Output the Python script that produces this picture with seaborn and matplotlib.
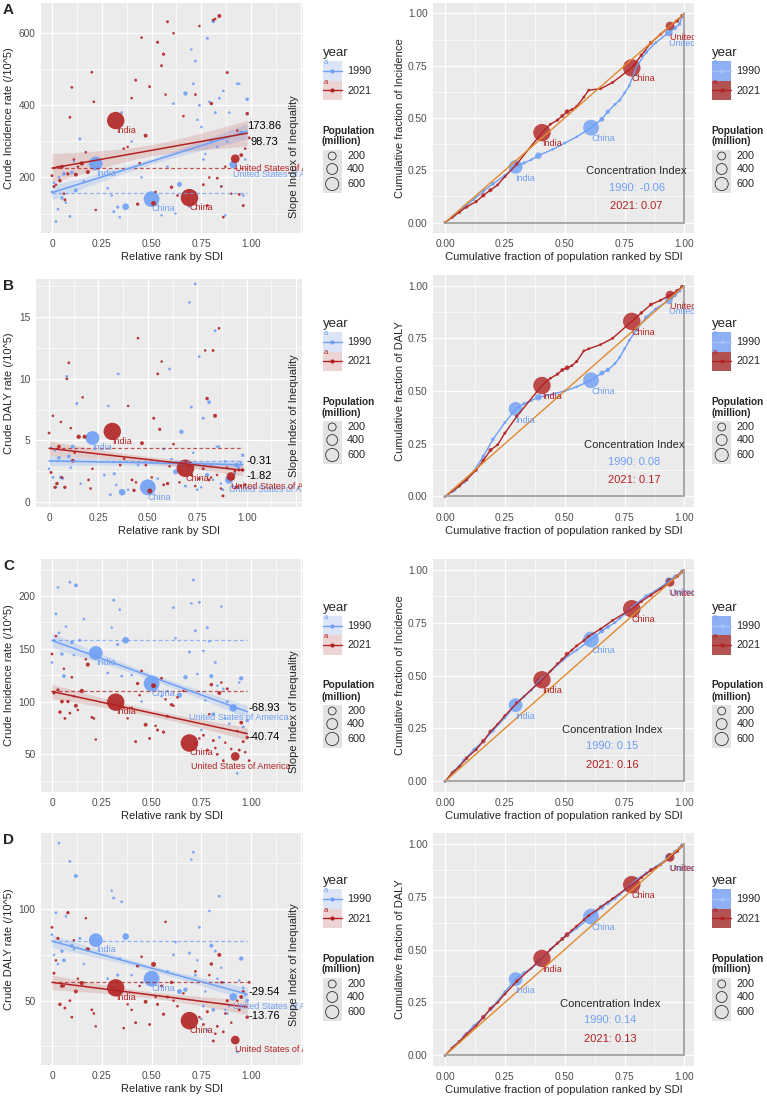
#!/usr/bin/env python3
"""
Inequality figure: slope index of inequality (left) and concentration curves (right),
1990 vs 2021, for four measures (A-D).
"""

import numpy as np
import matplotlib
matplotlib.use("Agg")
import matplotlib.pyplot as plt
import seaborn as sns
from matplotlib.patches import Rectangle

W, H = 767, 1098
BLUE = "#6E9FF5"
RED = "#B22222"
ORANGE = "#E08A30"

# ---------------- data: scatter (relative rank by SDI, population in millions)
rank_1990 = [0.00, 0.02, 0.035, 0.05, 0.06, 0.09, 0.10, 0.12, 0.14, 0.22,
             0.28, 0.31, 0.33, 0.35, 0.37, 0.45, 0.50, 0.58, 0.61, 0.64,
             0.67, 0.69, 0.71, 0.72, 0.74, 0.76, 0.78, 0.80, 0.81, 0.82,
             0.84, 0.86, 0.88, 0.91, 0.93, 0.95, 0.96, 0.98, 0.75, 0.03,
             0.01, 0.07, 0.11, 0.16, 0.30, 0.34, 0.40, 0.55, 0.62, 0.70,
             0.73, 0.77, 0.79, 0.83, 0.85, 0.87, 0.89, 0.94, 0.97]
pop_1990 = [6, 10, 8, 30, 40, 10, 35, 45, 15, 870,
            8, 12, 20, 10, 180, 5, 1150, 6, 10, 90,
            60, 15, 8, 12, 10, 8, 15, 50, 40, 12,
            10, 6, 8, 250, 8, 60, 10, 30, 5, 5,
            3, 3, 3, 3, 3, 3, 3, 3, 3, 3,
            3, 3, 3, 3, 3, 3, 3, 3, 3]
rank_2021 = [0.00, 0.01, 0.03, 0.04, 0.05, 0.065, 0.08, 0.09, 0.10, 0.12,
             0.15, 0.18, 0.20, 0.21, 0.32, 0.42, 0.43, 0.45, 0.47, 0.49,
             0.51, 0.53, 0.55, 0.56, 0.58, 0.60, 0.69, 0.76, 0.78, 0.80,
             0.81, 0.83, 0.84, 0.86, 0.88, 0.92, 0.94, 0.95, 0.96, 0.98,
             0.99, 0.63, 0.72, 0.36,
             0.02, 0.06, 0.11, 0.13, 0.17, 0.22, 0.38, 0.40, 0.44, 0.52,
             0.57, 0.61, 0.66, 0.74, 0.79, 0.82, 0.85, 0.87, 0.90, 0.93, 0.97]
pop_2021 = [10, 15, 20, 30, 40, 12, 25, 10, 8, 45,
            60, 50, 8, 6, 1400, 12, 25, 6, 45, 10,
            90, 15, 10, 20, 12, 25, 1420, 10, 15, 30,
            12, 10, 45, 8, 15, 330, 10, 40, 15, 30,
            10, 6, 8, 6,
            3, 3, 3, 3, 3, 3, 3, 3, 3, 3,
            3, 3, 3, 3, 3, 3, 3, 3, 3, 3, 3]
label_idx_1990 = [9, 16, 33]
label_idx_2021 = [14, 26, 35]
label_names = ["India", "China", "United States of America"]

inc_a_1990 = [160, 78, 200, 143, 210, 92, 214, 164, 307, 239,
              170, 105, 118, 380, 119, 200, 140, 230, 405, 181,
              433, 120, 460, 523, 400, 250, 586, 300, 633, 380,
              420, 440, 300, 236, 460, 324, 150, 417, 340, 112,
              185, 130, 245, 190, 150, 90, 300, 95, 100, 555,
              360, 265, 410, 285, 175, 95, 380, 460, 250]
inc_a_2021 = [205, 175, 228, 191, 230, 138, 210, 367, 450, 208,
              239, 215, 492, 410, 358, 470, 126, 588, 316, 452,
              128, 575, 510, 542, 632, 173, 144, 180, 122, 405,
              637, 198, 648, 90, 491, 252, 153, 262, 122, 377,
              310, 150, 430, 280,
              180, 155, 250, 230, 270, 110, 285, 420, 240, 160,
              430, 600, 370, 620, 200, 640, 175, 230, 155, 330, 280]
daly_b_1990 = [2.7, 2.0, 1.2, 3.6, 2.0, 10.2, 3.7, 4.5, 8.0, 5.2,
               2.2, 0.6, 2.3, 10.4, 0.8, 3.0, 1.2, 4.3, 10.8, 2.45,
               5.7, 1.3, 16.2, 7.7, 17.7, 11.8, 6.8, 2.2, 8.1, 3.0,
               13.9, 4.5, 1.0, 1.8, 1.3, 3.0, 2.8, 3.8, 1.0, 4.2,
               4.4, 1.9, 2.8, 1.5, 7.8, 1.4, 1.0, 1.9, 3.5, 2.5,
               4.0, 1.2, 3.0, 1.8, 4.5, 1.5, 3.3, 2.3, 3.2]
daly_b_2021 = [5.6, 2.4, 1.2, 1.5, 4.5, 2.0, 1.2, 10.0, 11.3, 3.35,
               5.3, 5.3, 1.8, 1.1, 5.73, 1.8, 0.95, 13.3, 4.78, 3.0,
               0.9, 6.8, 10.4, 5.9, 1.4, 1.5, 2.74, 1.9, 2.7, 8.4,
               1.8, 12.3, 7.0, 14.1, 0.5, 2.07, 2.5, 1.2, 2.6, 2.6,
               1.4, 4.7, 2.2, 3.0,
               7.0, 6.5, 6.0, 4.0, 8.5, 2.7, 3.5, 7.8, 1.6, 2.0,
               11.4, 2.9, 1.6, 1.3, 12.3, 2.0, 2.2, 1.1, 2.8, 1.9, 1.3]
inc_c_1990 = [137, 183, 165, 145, 124, 213, 156, 210, 158, 146,
              127, 196, 154, 124, 158, 100, 117, 110, 189, 106,
              123, 147, 215, 167, 194, 148, 170, 124, 88, 137,
              66, 112, 100, 94, 32, 122, 76, 82, 73, 208,
              158, 171, 144, 178, 170, 187, 125, 105, 160, 193,
              126, 101, 157, 115, 190, 84, 79, 118, 70]
inc_c_2021 = [145, 108, 111, 90, 100, 84, 100, 89, 123, 96,
              110, 135, 85, 84, 99.4, 62, 117, 129, 78, 65,
              115, 73, 122, 71, 86, 97, 60.7, 68, 54, 116,
              63, 50, 108, 44, 112, 48, 54, 80, 62, 66,
              44, 104, 60, 94,
              162, 131, 105, 92, 140, 64, 84, 94, 106, 77,
              102, 96, 110, 65, 88, 56, 118, 61, 55, 72, 52]
daly_d_1990 = [86, 98, 136, 77, 72, 126, 80, 118, 84, 83,
               62, 106, 64, 104, 85, 60, 62, 66, 75, 55,
               56, 76, 131, 64, 90, 47, 34, 80, 45, 77,
               107, 60, 43, 52, 22, 73, 57, 50, 40, 70,
               75, 96, 78, 70, 110, 73, 64, 58, 82, 127,
               72, 55, 99, 62, 68, 45, 47, 61, 53]
daly_d_2021 = [90, 65, 84, 48, 58, 46, 98, 50, 41, 55,
               59.6, 78, 45, 43, 57, 38, 69, 74, 49.4, 37,
               69.8, 48, 58, 42.6, 52, 60, 39.1, 37, 44, 70,
               28, 36, 75, 33, 50, 28.5, 45, 52, 55, 41,
               60, 47, 66, 35,
               72, 58, 83, 62, 95, 36, 48, 45, 58, 52,
               93, 50, 54, 41, 64, 32, 60, 43, 38, 50, 47]

# regression: intercept, slope index of inequality, CI half-width (start, min, end)
icpt_1990 = [158, 3.34, 157.9, 82.5]
icpt_2021 = [226, 4.36, 109.5, 60.0]
sii_1990 = [173.86, -0.31, -68.93, -29.54]
sii_2021 = [98.73, -1.82, -40.74, -13.76]
band_1990 = [[20, 8, 22], [0.4, 0.2, 0.4], [7, 3, 6], [3.5, 1.5, 3.5]]
band_2021 = [[40, 16, 36], [0.6, 0.25, 0.45], [7, 3, 6], [4, 1.7, 4]]

# ---------------- data: concentration curves
conc_x_1990 = [0.0, 0.04, 0.08, 0.12, 0.16, 0.20, 0.25, 0.295, 0.33, 0.36,
               0.39, 0.45, 0.50, 0.55, 0.61, 0.655, 0.68, 0.71, 0.73, 0.75,
               0.77, 0.80, 0.84, 0.88, 0.935, 0.96, 0.98, 0.99]
conc_pop_1990 = [5, 30, 40, 10, 35, 45, 10, 870, 20, 12,
                 180, 8, 10, 6, 1150, 90, 60, 15, 12, 10,
                 15, 50, 40, 12, 250, 60, 30, 10]
conc_x_2021 = [0.0, 0.03, 0.06, 0.09, 0.13, 0.16, 0.19, 0.22, 0.25, 0.30,
               0.405, 0.44, 0.47, 0.49, 0.51, 0.53, 0.55, 0.58, 0.60, 0.65,
               0.70, 0.78, 0.82, 0.86, 0.90, 0.94, 0.97, 0.99]
conc_pop_2021 = [5, 20, 30, 40, 25, 60, 50, 12, 20, 30,
                 1400, 12, 25, 45, 90, 15, 20, 10, 12, 10,
                 15, 1420, 30, 45, 15, 330, 40, 30]
conc_label_1990 = [7, 14, 24]
conc_label_2021 = [10, 21, 25]

conc_a_1990 = [0, 0.035, 0.075, 0.11, 0.15, 0.185, 0.225, 0.266, 0.285, 0.30,
               0.32, 0.35, 0.38, 0.41, 0.454, 0.494, 0.53, 0.565, 0.585, 0.62,
               0.655, 0.745, 0.815, 0.86, 0.909, 0.93, 0.95, 0.985]
conc_a_2021 = [0, 0.025, 0.05, 0.075, 0.10, 0.13, 0.155, 0.18, 0.22, 0.28,
               0.43, 0.47, 0.49, 0.51, 0.53, 0.54, 0.555, 0.60, 0.633, 0.64,
               0.67, 0.74, 0.80, 0.86, 0.90, 0.94, 0.965, 0.99]
conc_b_1990 = [0, 0.03, 0.07, 0.12, 0.19, 0.27, 0.35, 0.415, 0.44, 0.455,
               0.47, 0.485, 0.50, 0.52, 0.551, 0.585, 0.60, 0.63, 0.66, 0.70,
               0.74, 0.79, 0.85, 0.89, 0.93, 0.955, 0.975, 0.995]
conc_b_2021 = [0, 0.025, 0.05, 0.08, 0.125, 0.17, 0.22, 0.245, 0.30, 0.38,
               0.526, 0.56, 0.58, 0.60, 0.61, 0.62, 0.64, 0.69, 0.70, 0.72,
               0.75, 0.83, 0.87, 0.91, 0.93, 0.955, 0.975, 0.995]
conc_c_1990 = [0, 0.05, 0.10, 0.15, 0.19, 0.24, 0.30, 0.36, 0.40, 0.43,
               0.47, 0.53, 0.58, 0.62, 0.67, 0.71, 0.73, 0.75, 0.77, 0.79,
               0.81, 0.84, 0.875, 0.90, 0.945, 0.965, 0.98, 0.995]
conc_c_2021 = [0, 0.04, 0.07, 0.11, 0.15, 0.19, 0.235, 0.27, 0.31, 0.37,
               0.48, 0.52, 0.555, 0.575, 0.60, 0.62, 0.64, 0.665, 0.685, 0.72,
               0.76, 0.815, 0.85, 0.88, 0.91, 0.94, 0.97, 0.99]
conc_d_1990 = [0, 0.045, 0.09, 0.14, 0.18, 0.23, 0.30, 0.36, 0.39, 0.41,
               0.44, 0.51, 0.56, 0.60, 0.655, 0.70, 0.72, 0.74, 0.76, 0.78,
               0.80, 0.83, 0.86, 0.89, 0.935, 0.96, 0.98, 0.995]
conc_d_2021 = [0, 0.035, 0.065, 0.10, 0.14, 0.18, 0.22, 0.25, 0.29, 0.35,
               0.458, 0.50, 0.53, 0.55, 0.57, 0.59, 0.61, 0.64, 0.66, 0.70,
               0.74, 0.806, 0.84, 0.875, 0.90, 0.935, 0.965, 0.99]
ci_1990 = [-0.06, 0.08, 0.15, 0.14]
ci_2021 = [0.07, 0.17, 0.16, 0.13]

legend_pops = [200, 400, 600]

SIZES = (3, 168)
SIZE_NORM = (0, 1500)

# ---------------- per-panel layout (pixel boxes: x0, y0, x1, y1)
panels = [
    dict(tag="A", ytitle="Crude Incidence rate (/10^5)", rtitle="Cumulative fraction of Incidence",
         v90=inc_a_1990, v21=inc_a_2021, c90=conc_a_1990, c21=conc_a_2021,
         lbox=(41, 3, 303, 233), rbox=(433, 3, 694, 233), xlim=(-0.055, 1.26),
         ylim=(46, 684), yt=[200, 400, 600], ym=[100, 300, 500],
         sii_y=(342, 299), slope_yc=157, ci_x=0.80, us_dx=0, leg_y=46),
    dict(tag="B", ytitle="Crude DALY rate (/10^5)", rtitle="Cumulative fraction of DALY",
         v90=daly_b_1990, v21=daly_b_2021, c90=conc_b_1990, c21=conc_b_2021,
         lbox=(36, 279, 302, 507), rbox=(433, 275, 694, 507), xlim=(-0.066, 1.28),
         ylim=(-0.4, 18.1), yt=[0, 5, 10, 15], ym=[2.5, 7.5, 12.5, 17.5],
         sii_y=(3.36, 2.14), slope_yc=416, ci_x=0.79, us_dx=0, leg_y=317),
    dict(tag="C", ytitle="Crude Incidence rate (/10^5)", rtitle="Cumulative fraction of Incidence",
         v90=inc_c_1990, v21=inc_c_2021, c90=conc_c_1990, c21=conc_c_2021,
         lbox=(41, 559, 303, 792), rbox=(433, 559, 694, 792), xlim=(-0.055, 1.26),
         ylim=(14.3, 235), yt=[50, 100, 150, 200], ym=[25, 75, 125, 175, 225],
         sii_y=(94.3, 66.2), slope_yc=712, ci_x=0.70, us_dx=-0.22, leg_y=601),
    dict(tag="D", ytitle="Crude DALY rate (/10^5)", rtitle="Cumulative fraction of DALY",
         v90=daly_d_1990, v21=daly_d_2021, c90=conc_d_1990, c21=conc_d_2021,
         lbox=(41, 833, 303, 1065), rbox=(433, 833, 694, 1066), xlim=(-0.055, 1.26),
         ylim=(14.9, 141.5), yt=[50, 100], ym=[25, 75, 125],
         sii_y=(54.5, 41.8), slope_yc=965, ci_x=0.69, us_dx=0, leg_y=874),
]


def px_axes(fig, box):
    x0, y0, x1, y1 = box
    return fig.add_axes([x0 / W, 1 - y1 / H, (x1 - x0) / W, (y1 - y0) / H])


def style_axes(ax, xt, xm, yt, ym):
    ax.set_facecolor("#EBEBEB")
    for s in ax.spines.values():
        s.set_visible(False)
    ax.set_xticks(xt)
    ax.set_xticks(xm, minor=True)
    ax.set_yticks(yt)
    ax.set_yticks(ym, minor=True)
    ax.grid(which="major", color="white", lw=0.9)
    ax.grid(which="minor", color="white", lw=0.45)
    ax.set_axisbelow(True)
    ax.tick_params(which="major", length=2.5, width=0.6, color="#333333",
                   labelsize=7.3, labelcolor="#4D4D4D", pad=1.5)
    ax.tick_params(which="minor", length=0)
    ax.set_xlabel("")
    ax.set_ylabel("")


def size_of(p):
    return SIZES[0] + (SIZES[1] - SIZES[0]) * p / SIZE_NORM[1]


def draw_left(fig, i, p):
    ax = px_axes(fig, p["lbox"])
    xs = np.linspace(0, 0.98, 60)
    series = [
        (BLUE, rank_1990, pop_1990, p["v90"], icpt_1990[i], sii_1990[i], band_1990[i], 0.22, label_idx_1990),
        (RED, rank_2021, pop_2021, p["v21"], icpt_2021[i], sii_2021[i], band_2021[i], 0.15, label_idx_2021),
    ]
    for col, rk, pp, vals, b0, b1, band, fa, lab in series:
        fit = b0 + b1 * xs
        h0, hm, h1 = band
        t = (xs - 0.49) / 0.49
        hend = np.where(xs < 0.49, h0, h1)
        hw = np.sqrt(hm ** 2 + (hend ** 2 - hm ** 2) * t ** 2)
        ax.fill_between(xs, fit - hw, fit + hw, color=col, alpha=fa, lw=0)
        ax.plot([0, 0.98], [b0, b0], color=col, lw=0.9, alpha=0.75, ls=(0, (3, 2)))
    for col, rk, pp, vals, *_ in series:
        sns.scatterplot(x=rk, y=vals, size=pp, sizes=SIZES, size_norm=SIZE_NORM,
                        color=col, alpha=0.9, linewidth=0, legend=False, ax=ax)
    for col, rk, pp, vals, b0, b1, band, fa, lab in series:
        ax.plot(xs, b0 + b1 * xs, color=col, lw=1.1)
        for k, name in zip(lab, label_names):
            dx = p["us_dx"] if name.startswith("United") else 0
            ax.annotate(name, (rk[k] + dx, vals[k]), xytext=(0, -7), textcoords="offset points",
                        ha="left", va="center", color=col, fontsize=6.5, clip_on=True)
    for sy, v in zip(p["sii_y"], (sii_1990[i], sii_2021[i])):
        ax.text(1.065, sy, f"{v:.2f}", ha="center", va="center", fontsize=8, color="black")
    ax.set_xlim(*p["xlim"])
    ax.set_ylim(*p["ylim"])
    style_axes(ax, [0, 0.25, 0.5, 0.75, 1.0, 1.25], [0.125, 0.375, 0.625, 0.875, 1.125],
               p["yt"], p["ym"])
    ax.set_xticklabels(["0", "0.25", "0.50", "0.75", "1.00", ""])
    ax.set_yticklabels([f"{v:g}" for v in p["yt"]])

    x0, y0, x1, y1 = p["lbox"]
    fig.text(9 / W, 1 - (y0 + y1) / 2 / H, p["ytitle"], rotation=90, ha="center", va="center", fontsize=8)
    fig.text((x0 + x1) / 2 / W, 1 - (y1 + 24) / H, "Relative rank by SDI", ha="center", va="center", fontsize=8)
    fig.text(294 / W, 1 - p["slope_yc"] / H, "Slope Index of Inequality", rotation=90,
             ha="center", va="center", fontsize=8)
    fig.text(3 / W, 1 - (y0 + 7) / H, p["tag"], ha="left", va="center", fontsize=11, fontweight="bold")


def draw_right(fig, i, p):
    ax = px_axes(fig, p["rbox"])
    series = [
        (BLUE, conc_x_1990, conc_pop_1990, p["c90"], conc_label_1990),
        (RED, conc_x_2021, conc_pop_2021, p["c21"], conc_label_2021),
    ]
    for col, cx, cp, cy, lab in series:
        ax.plot(cx, cy, color=col, lw=1.0)
        sns.scatterplot(x=cx, y=cy, size=cp, sizes=SIZES, size_norm=SIZE_NORM,
                        color=col, alpha=0.8, linewidth=0, legend=False, ax=ax)
    ax.plot([0, 1], [0, 1], color=ORANGE, lw=1.0)
    ax.plot([1, 1], [0, 1], color="#A6A6A6", lw=1.4)
    ax.plot([0, 1], [0, 0], color="#A6A6A6", lw=1.4)
    for col, cx, cp, cy, lab in series:
        for k, name in zip(lab, label_names):
            ax.annotate(name, (cx[k], cy[k]), xytext=(0, -8), textcoords="offset points",
                        ha="left", va="center", color=col, fontsize=6.5, clip_on=True)
    cx0 = p["ci_x"]
    ax.text(cx0, 0.245, "Concentration Index", ha="center", va="center", fontsize=8)
    ax.text(cx0, 0.165, f"1990: {ci_1990[i]:.2f}", ha="center", va="center", fontsize=8, color=BLUE)
    ax.text(cx0, 0.078, f"2021: {ci_2021[i]:.2f}", ha="center", va="center", fontsize=8, color=RED)
    ax.set_xlim(-0.05, 1.04)
    ax.set_ylim(-0.05, 1.05)
    ticks = [0, 0.25, 0.5, 0.75, 1.0]
    minor = [0.125, 0.375, 0.625, 0.875]
    style_axes(ax, ticks, minor, ticks, minor)
    ax.set_xticklabels([f"{v:.2f}" for v in ticks])
    ax.set_yticklabels([f"{v:.2f}" for v in ticks])

    x0, y0, x1, y1 = p["rbox"]
    fig.text(400 / W, 1 - (y0 + y1) / 2 / H, p["rtitle"], rotation=90, ha="center", va="center", fontsize=8)
    fig.text((x0 + x1) / 2 / W, 1 - (y1 + 24) / H, "Cumulative fraction of population ranked by SDI",
             ha="center", va="center", fontsize=8)


def draw_legend(fig, x0, y0, strong):
    lw_, lh = 60, 150
    lax = fig.add_axes([x0 / W, 1 - (y0 + lh) / H, lw_ / W, lh / H])
    lax.set_xlim(0, lw_)
    lax.set_ylim(lh, 0)
    lax.axis("off")
    lax.text(2.7, 7, "year", ha="left", va="center", fontsize=9.5)
    if strong:
        fills = ["#8FB0F4", "#B35252"]
        lines = ["#A8C2F7", RED]
    else:
        fills = ["#DCE5F6", "#EDD4D4"]
        lines = [BLUE, RED]
    for j, (col, fill, lcol, lab) in enumerate(zip([BLUE, RED], fills, lines, ["1990", "2021"])):
        top = 15 + j * 19.5
        lax.add_patch(Rectangle((2.7, top), 19, 19.5, facecolor=fill, edgecolor="none"))
        lax.plot([2.7, 21.7], [top + 9.75] * 2, color=lcol, lw=1.0)
        lax.scatter([12.2], [top + 9.75], s=9, color=lcol, linewidths=0)
        lax.text(3.5, top + 1.5, "a", ha="left", va="center", fontsize=5.5, color=col)
        lax.text(27, top + 10, lab, ha="left", va="center", fontsize=7.8)
    lax.text(2, 84.5, "Population", ha="left", va="center", fontsize=7.3, fontweight="bold")
    lax.text(2, 95.5, "(million)", ha="left", va="center", fontsize=7.3, fontweight="bold")
    lax.add_patch(Rectangle((2.7, 104), 19, 43, facecolor="#E3E3E3", edgecolor="none"))
    for pv, yy in zip(legend_pops, [110, 123, 138]):
        lax.scatter([12.2], [yy], s=size_of(pv) * 1.3, facecolor="none", edgecolor="#333333", linewidths=0.6)
        lax.text(27, yy, str(pv), ha="left", va="center", fontsize=7.8)


def main():
    sns.set_style("darkgrid")
    plt.rcParams["font.family"] = ["Liberation Sans", "DejaVu Sans"]
    fig = plt.figure(figsize=(W / 100, H / 100), dpi=100)
    fig.patch.set_facecolor("white")
    for i, p in enumerate(panels):
        draw_left(fig, i, p)
        draw_right(fig, i, p)
        draw_legend(fig, 320, p["leg_y"], strong=False)
        draw_legend(fig, 709.5, p["leg_y"], strong=True)
    fig.savefig("out.png", dpi=100)
    plt.close(fig)


if __name__ == "__main__":
    main()
